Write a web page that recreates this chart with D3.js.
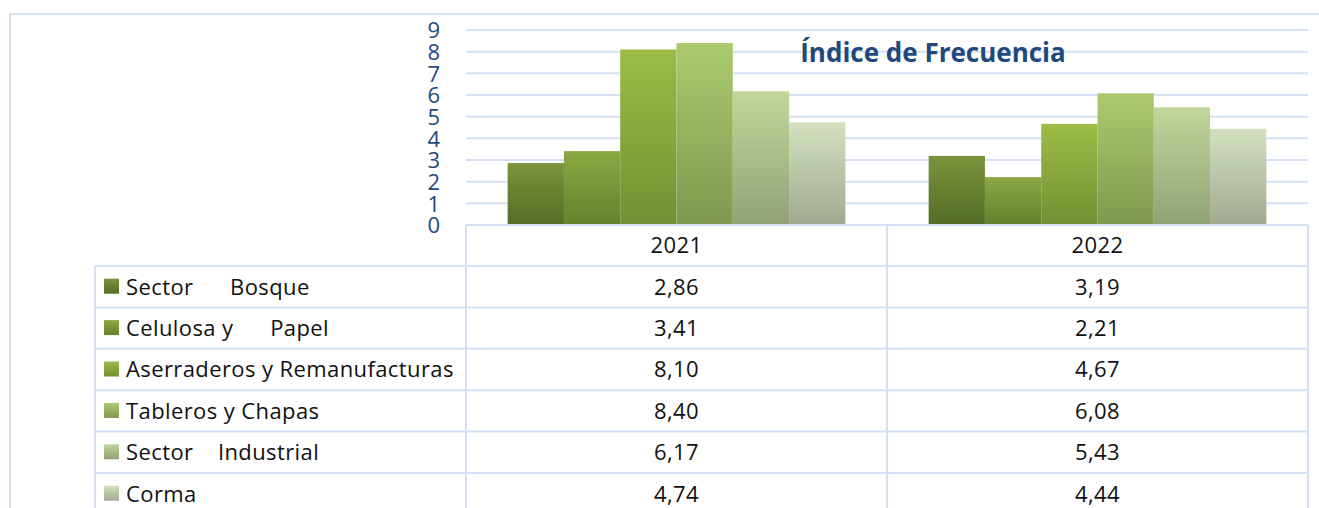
<!DOCTYPE html>
<html>
<head>
<meta charset="utf-8">
<script src="https://cdn.jsdelivr.net/npm/d3@7"></script>
<style>
	html, body { margin: 0; padding: 0; background: #fff; }
	svg { display: block; }
	text { font-family: "Open Sans", Lato, sans-serif; }
</style>
</head>
<body>
<div id="chart"></div>
<script>
// chart data
const years = ['2021', '2022']
const series = [
	'Sector      Bosque',
	'Celulosa y      Papel',
	'Aserraderos y Remanufacturas',
	'Tableros y Chapas',
	'Sector    Industrial',
	'Corma',
]
const values2021 = [2.86, 3.41, 8.1, 8.4, 6.17, 4.74]
const values2022 = [3.19, 2.21, 4.67, 6.08, 5.43, 4.44]
const yTicks = [0, 1, 2, 3, 4, 5, 6, 7, 8, 9]
const title = 'Índice de Frecuencia'

// colours per series: [top, bottom] of the gradient
const colors = [
	['#7a943c', '#546c26'],
	['#8aa843', '#65812d'],
	['#9bbd45', '#738f34'],
	['#abcb6e', '#7f984f'],
	['#c1d79c', '#90a275'],
	['#d4e1c0', '#a0a990'],
]

const lineColor = '#d5e1f2'
const blue = '#1f497d'

const svgWidth = 1319
const svgHeight = 508
const plot = { left: 466, right: 1308, top: 30, bottom: 225 }
const legendLeft = 95
const headerH = 41
const rowH = 41.4

const table = series.map((s, i) => ({ name: s, v: [values2021[i], values2022[i]], i }))

const svg = d3
	.select('#chart')
	.append('svg')
	.attr('width', svgWidth)
	.attr('height', svgHeight)

const defs = svg.append('defs')
colors.forEach((c, i) => {
	const g = defs
		.append('linearGradient')
		.attr('id', 'grad' + i)
		.attr('x1', 0)
		.attr('y1', 0)
		.attr('x2', 0)
		.attr('y2', 1)
	g.append('stop').attr('offset', '0%').attr('stop-color', c[0])
	g.append('stop').attr('offset', '100%').attr('stop-color', c[1])
})

// outer frame (only top and left visible)
svg
	.append('path')
	.attr('d', `M10,${svgHeight} V14 H${svgWidth}`)
	.attr('fill', 'none')
	.attr('stroke', lineColor)
	.attr('stroke-width', 2)

const x = d3
	.scaleBand()
	.domain(years)
	.range([plot.left, plot.right])
	.padding(0)

const xs = d3
	.scaleBand()
	.domain(d3.range(series.length))
	.range([0, x.bandwidth()])
	.paddingInner(0)
	.paddingOuter(0.74)

const y = d3
	.scaleLinear()
	.domain([0, 9])
	.range([plot.bottom, plot.top])

// gridlines
svg
	.append('g')
	.selectAll('line')
	.data(yTicks.filter((t) => t > 0))
	.enter()
	.append('line')
	.attr('x1', plot.left)
	.attr('x2', plot.right)
	.attr('y1', (d) => y(d))
	.attr('y2', (d) => y(d))
	.attr('stroke', lineColor)
	.attr('stroke-width', 2)

// y axis labels
const yAxis = svg
	.append('g')
	.attr('transform', 'translate(440,0)')
	.call(d3.axisLeft(y).tickValues(yTicks).tickSize(0).tickPadding(0))
yAxis.select('.domain').remove()
yAxis
	.selectAll('text')
	.attr('fill', blue)
	.style('font-family', '"Open Sans", sans-serif')
	.style('font-size', '22px')
	.attr('dy', '0.36em')

// bars
const groups = svg
	.append('g')
	.selectAll('g')
	.data(years)
	.enter()
	.append('g')
	.attr('transform', (d) => `translate(${x(d)},0)`)

groups
	.selectAll('rect')
	.data((d, yi) => table.map((r) => ({ i: r.i, v: r.v[yi] })))
	.enter()
	.append('rect')
	.attr('x', (d) => xs(d.i))
	.attr('y', (d) => y(d.v))
	.attr('width', xs.bandwidth())
	.attr('height', (d) => y(0) - y(d.v))
	.attr('fill', (d) => `url(#grad${d.i})`)

// title
svg
	.append('text')
	.attr('x', 933)
	.attr('y', 62)
	.attr('text-anchor', 'middle')
	.attr('fill', blue)
	.style('font-size', '26px')
	.style('font-weight', 'bold')
	.text(title)

// data table
const tableTop = plot.bottom
const rowTop = (i) => tableTop + headerH + i * rowH
const tableBottom = rowTop(series.length)
const colEdges = [legendLeft, plot.left, x('2022'), plot.right]

const grid = svg.append('g').attr('stroke', lineColor).attr('stroke-width', 2)
// header top
grid
	.append('line')
	.attr('x1', plot.left)
	.attr('x2', plot.right)
	.attr('y1', tableTop)
	.attr('y2', tableTop)
// row lines
grid
	.selectAll('.row')
	.data(d3.range(series.length + 1))
	.enter()
	.append('line')
	.attr('x1', legendLeft)
	.attr('x2', plot.right)
	.attr('y1', (d) => rowTop(d))
	.attr('y2', (d) => rowTop(d))
// column lines
grid
	.selectAll('.col')
	.data(colEdges)
	.enter()
	.append('line')
	.attr('x1', (d) => d)
	.attr('x2', (d) => d)
	.attr('y1', (d, i) => (i === 0 ? rowTop(0) : tableTop))
	.attr('y2', tableBottom)

const cellFont = (sel) =>
	sel.attr('fill', '#111').style('font-size', '22px').style('letter-spacing', '0.4px')

// header labels
svg
	.append('g')
	.selectAll('text')
	.data(years)
	.enter()
	.append('text')
	.attr('x', (d) => x(d) + x.bandwidth() / 2)
	.attr('y', tableTop + headerH / 2)
	.attr('dy', '0.36em')
	.attr('text-anchor', 'middle')
	.call(cellFont)
	.text((d) => d)

const fmt = (v) => v.toFixed(2).replace('.', ',')

const rows = svg
	.append('g')
	.selectAll('g')
	.data(table)
	.enter()
	.append('g')
	.attr('transform', (d, i) => `translate(0,${rowTop(i) + rowH / 2})`)

rows
	.append('rect')
	.attr('x', 104)
	.attr('y', -8)
	.attr('width', 15)
	.attr('height', 15)
	.attr('fill', (d) => `url(#grad${d.i})`)

rows
	.append('text')
	.attr('x', 126)
	.attr('dy', '0.36em')
	.call(cellFont)
	.style('white-space', 'pre')
	.text((d) => d.name)

rows
	.selectAll('.val')
	.data((d) => d.v.map((v, yi) => ({ v, year: years[yi] })))
	.enter()
	.append('text')
	.attr('x', (d) => x(d.year) + x.bandwidth() / 2)
	.attr('dy', '0.36em')
	.attr('text-anchor', 'middle')
	.call(cellFont)
	.text((d) => fmt(d.v))
</script>
</body>
</html>
